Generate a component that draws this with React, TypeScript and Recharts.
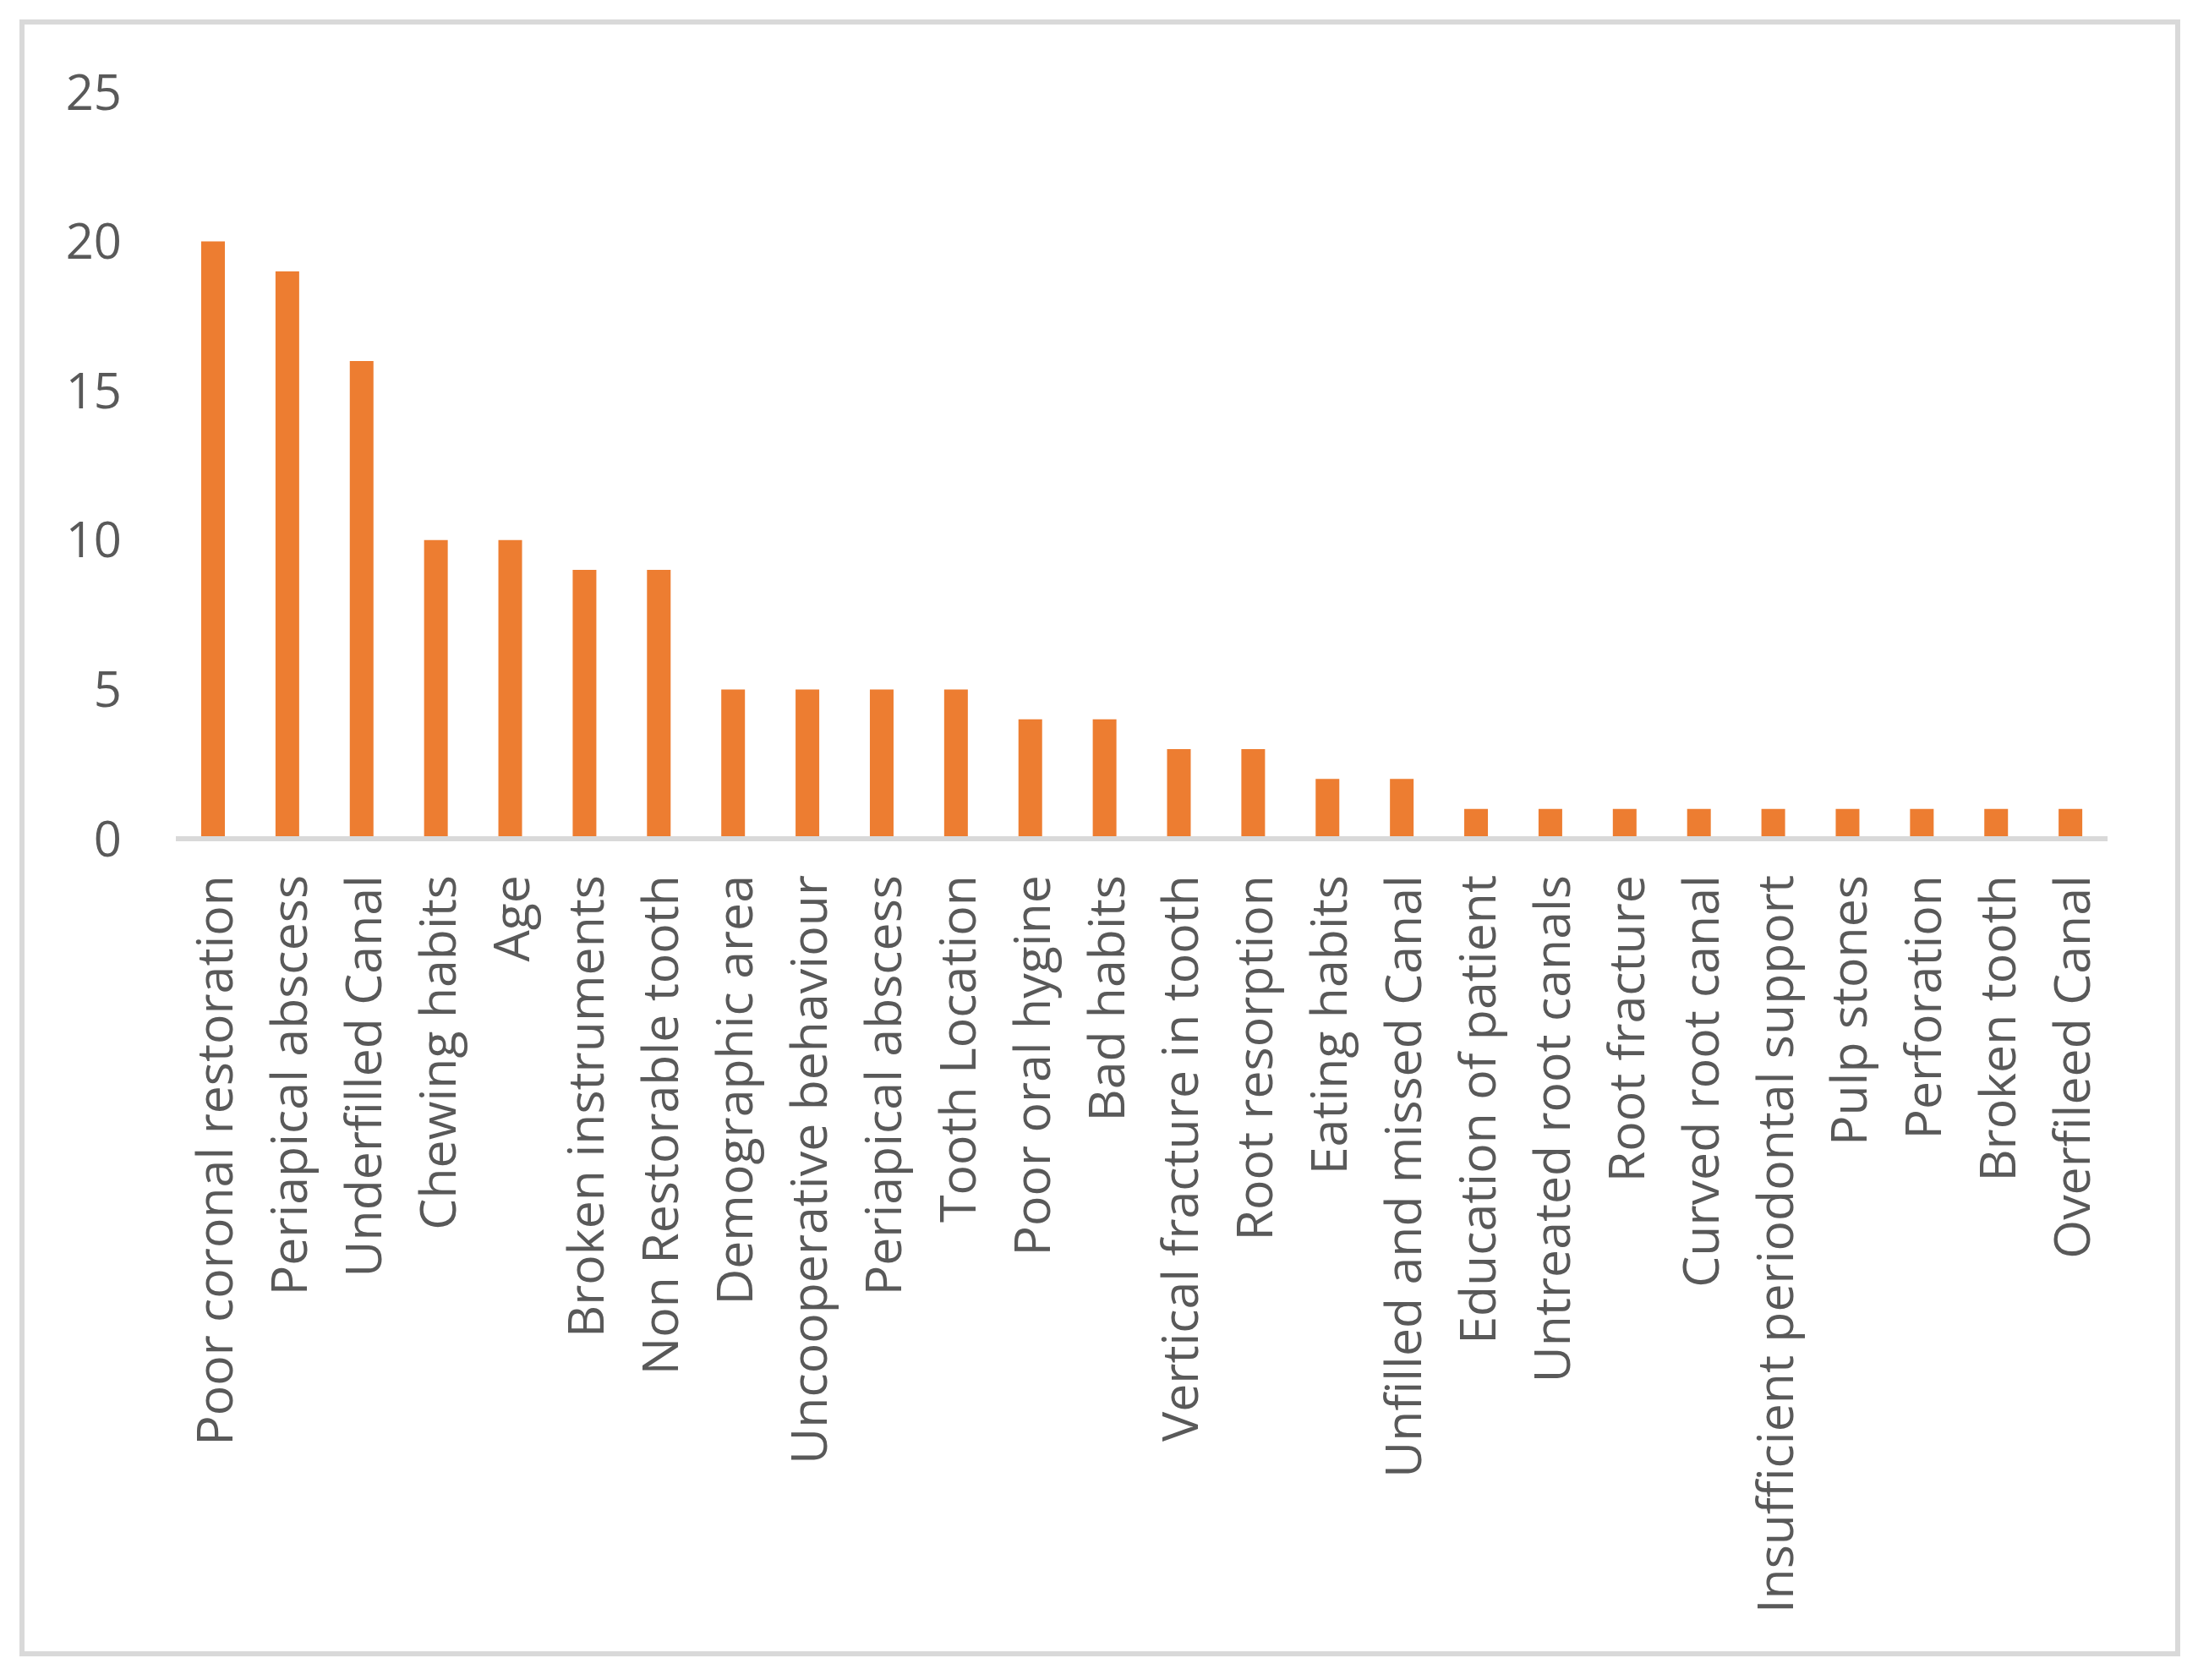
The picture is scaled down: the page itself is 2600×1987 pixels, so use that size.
import { BarChart, Bar, XAxis, YAxis } from 'recharts';

const categories = [
  'Poor coronal restoration',
  'Periapical abscess',
  'Underfilled Canal',
  'Chewing habits',
  'Age',
  'Broken instruments',
  'Non Restorable tooth',
  'Demographic area',
  'Uncooperative behaviour',
  'Periapical abscess',
  'Tooth Location',
  'Poor oral hygine',
  'Bad habits',
  'Vertical fracture in tooth',
  'Root resorption',
  'Eating habits',
  'Unfilled and missed Canal',
  'Education of patient',
  'Untreated root canals',
  'Root fracture',
  'Curved root canal',
  'Insufficient periodontal support',
  'Pulp stones',
  'Perforation',
  'Broken tooth',
  'Overfileed Canal',
];

const counts = [20, 19, 16, 10, 10, 9, 9, 5, 5, 5, 5, 4, 4, 3, 3, 2, 2, 1, 1, 1, 1, 1, 1, 1, 1, 1];

const yTicks = [0, 5, 10, 15, 20, 25];

const data = categories.map((name, i) => ({ id: i, name, value: counts[i] }));

const FONT = '"Open Sans", sans-serif';
const TEXT = '#595959';

const CategoryTick = (props: any) => {
  const { x, y, payload } = props;
  return (
    <text
      x={x}
      y={y}
      transform={`rotate(-90, ${x}, ${y})`}
      textAnchor="end"
      dominantBaseline="central"
      fill={TEXT}
      fontSize={59}
      fontFamily={FONT}
    >
      {categories[payload.value] ?? ''}
    </text>
  );
};

export default function App() {
  return (
    <div style={{ position: 'absolute', left: 0, top: 0, width: 2600, height: 1987, background: '#fff' }}>
      <div
        style={{
          position: 'absolute',
          left: 23,
          top: 23,
          width: 2556,
          height: 1936,
          boxSizing: 'border-box',
          border: '6px solid #d9d9d9',
        }}
      />
      <div style={{ position: 'absolute', left: 0, top: 0 }}>
        <BarChart
          width={2600}
          height={1987}
          data={data}
          margin={{ top: 109, right: 107, left: 58, bottom: 95 }}
        >
          <XAxis
            dataKey="id"
            type="category"
            interval={0}
            height={900}
            axisLine={{ stroke: '#d9d9d9', strokeWidth: 6 }}
            tickLine={false}
            tickSize={0}
            tickMargin={43}
            tick={<CategoryTick />}
          />
          <YAxis
            domain={[0, 25]}
            ticks={yTicks}
            width={150}
            axisLine={false}
            tickLine={false}
            tickSize={0}
            tickMargin={64}
            tick={{ fill: TEXT, fontSize: 58, fontFamily: FONT }}
          />
          <Bar dataKey="value" fill="#ED7D31" barSize={28} isAnimationActive={false} />
        </BarChart>
      </div>
    </div>
  );
}
